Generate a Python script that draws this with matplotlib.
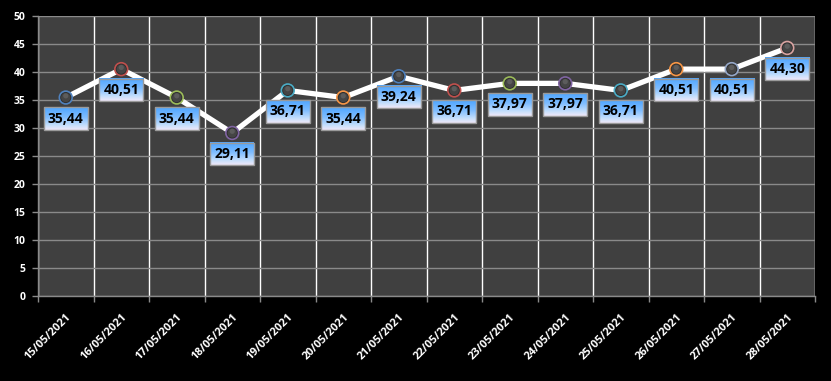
import matplotlib
matplotlib.use('Agg')
import matplotlib.pyplot as plt
import numpy as np
from matplotlib.colors import LinearSegmentedColormap

dates = ["15/05/2021", "16/05/2021", "17/05/2021", "18/05/2021", "19/05/2021",
         "20/05/2021", "21/05/2021", "22/05/2021", "23/05/2021", "24/05/2021",
         "25/05/2021", "26/05/2021", "27/05/2021", "28/05/2021"]
values = [35.44, 40.51, 35.44, 29.11, 36.71, 35.44, 39.24, 36.71, 37.97, 37.97,
          36.71, 40.51, 40.51, 44.30]
marker_colors = ["#4F81BD", "#C0504D", "#9BBB59", "#8064A2", "#4BACC6", "#F79646",
                 "#4F81BD", "#C0504D", "#9BBB59", "#8064A2", "#4BACC6", "#F79646",
                 "#95A7C7", "#D9A3A1"]
y_ticks = list(range(0, 51, 5))

plt.rcParams['font.family'] = ['Open Sans', 'DejaVu Sans']

W, H = 831, 381
fig = plt.figure(figsize=(W / 100, H / 100), dpi=100, facecolor='black')
ax = fig.add_axes([38 / W, 1 - 296 / H, (815 - 38) / W, (296 - 16) / H])
ax.set_facecolor('#404040')

n = len(values)
x = np.arange(n)
ax.set_xlim(-0.5, n - 0.5)
ax.set_ylim(0, 50)

# grid
ax.set_yticks(y_ticks)
ax.set_xticks(x)
ax.set_xticks(np.arange(-0.5, n), minor=True)
ax.grid(which='major', axis='y', color='#8a8a8a', lw=1, zorder=1)
ax.grid(which='minor', axis='x', color='white', lw=1, zorder=1)
ax.grid(which='major', axis='x', visible=False)
ax.set_axisbelow(True)

for s in ['top', 'right']:
    ax.spines[s].set_visible(False)
for s in ['left', 'bottom']:
    ax.spines[s].set_color('#8a8a8a')
    ax.spines[s].set_linewidth(1)

ax.tick_params(axis='y', colors='#8a8a8a', length=4, width=1, pad=5,
               labelcolor='white', labelsize=7.5)
ax.tick_params(axis='x', which='major', length=0, pad=11, labelcolor='white', labelsize=8)
ax.tick_params(axis='x', which='minor', length=4, width=1, color='#8a8a8a')
ax.set_xticklabels(dates, rotation=45, ha='right', rotation_mode='anchor')
for lbl in ax.get_yticklabels() + ax.get_xticklabels():
    lbl.set_fontweight('bold')

# line
ax.plot(x, values, color='white', lw=3.8, zorder=3, solid_capstyle='round',
        solid_joinstyle='round')
# sphere-like markers
ax.scatter(x, values, s=85, c='#2e2e2e', edgecolors=marker_colors, linewidths=1.2,
           zorder=4)
ax.scatter(x, values, s=45, c='#454545', edgecolors='none', zorder=4.1)
ax.scatter(x, np.array(values) + 0.3, s=14, c='#5c5c5c', edgecolors='none', zorder=4.2)

# labels
texts = []
for xi, v in zip(x, values):
    lab = f"{v:.2f}".replace('.', ',')
    t = ax.annotate(lab, (xi, v), xytext=(0, -14), textcoords='offset pixels',
                    ha='center', va='top', fontsize=10, fontweight='bold', color='black',
                    zorder=6,
                    bbox=dict(boxstyle='square,pad=0.3', fc='none', ec='#9a9a9a', lw=1))
    texts.append(t)

fig.canvas.draw()
renderer = fig.canvas.get_renderer()
cmap = LinearSegmentedColormap.from_list(
    'lbl', [(0.0, '#F0E8F8'), (0.2, '#C6DFFC'), (0.55, '#7FBDFF'), (1.0, '#4DA5FF')])
grad = np.linspace(0, 1, 100).reshape(-1, 1)
inv = ax.transData.inverted()
for t in texts:
    bb = t.get_bbox_patch().get_window_extent(renderer)
    (x0, y0), (x1, y1) = inv.transform([[bb.x0, bb.y0], [bb.x1, bb.y1]])
    ax.imshow(grad, extent=(x0, x1, y0, y1), origin='lower', aspect='auto', cmap=cmap,
              interpolation='bilinear', zorder=5)
ax.set_xlim(-0.5, n - 0.5)
ax.set_ylim(0, 50)

fig.savefig('out.png', dpi=100, facecolor='black')
